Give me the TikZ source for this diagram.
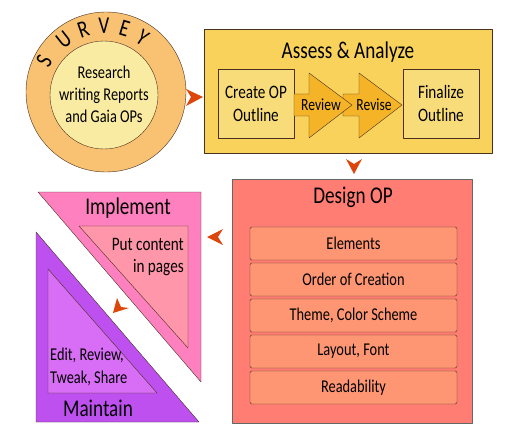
\documentclass[tikz,border=0pt]{standalone}
\usepackage{fontspec}
\setmainfont[FakeStretch=0.8]{Carlito}
\usetikzlibrary{calc}
\definecolor{edge}{HTML}{4A3020}
\definecolor{surveyout}{HTML}{F8C272}
\definecolor{surveyin}{HTML}{FAEBA2}
\definecolor{assessout}{HTML}{F8D25A}
\definecolor{assessin}{HTML}{F9DC7A}
\definecolor{assessarrow}{HTML}{F5B428}
\definecolor{designout}{HTML}{FF7D73}
\definecolor{designin}{HTML}{FF9673}
\definecolor{implout}{HTML}{FF80BE}
\definecolor{implin}{HTML}{FF96AA}
\definecolor{maintout}{HTML}{BE50F0}
\definecolor{maintin}{HTML}{D76EF5}
\definecolor{chev}{HTML}{DC460A}
\tikzset{
  title/.style={font=\fontsize{24}{26}\selectfont, inner sep=0pt},
  body/.style={font=\fontsize{19}{22}\selectfont, inner sep=0pt, align=center},
  item/.style={draw=edge, fill=designin, rounded corners=1.5pt, minimum width=207pt, minimum height=33pt, inner sep=0pt, font=\fontsize{18}{20}\selectfont},
  inbox/.style={draw=edge, fill=assessin, minimum width=76pt, minimum height=69pt, inner sep=0pt, align=center, font=\fontsize{19}{23}\selectfont},
  chevron/.style={fill=chev, draw=none},
  letter/.style={font=\fontsize{24}{24}\selectfont, inner sep=0pt},
}
\begin{document}
\begin{tikzpicture}[x=1pt,y=-1pt, line join=round, thin]
\useasboundingbox (0,0) rectangle (520,444);
\fill[white] (0,0) rectangle (520,444);

% ---------- Survey ----------
\node[circle, draw=edge, fill=surveyout, minimum size=160pt, inner sep=0pt] (survey) at (106,92) {};
\node[circle, draw=edge, fill=surveyin, minimum size=108pt, inner sep=0pt] (surveyinner) at (104,95) {};
\node[body, font=\fontsize{18}{22}\selectfont] (researchtxt) at (104,94) {Research\\writing Reports\\and Gaia OPs};
\foreach \l/\a/\r [count=\i] in {S/152/69,U/128/67,R/109/67,V/91/67,E/73/67,Y/56/67}
  \node[letter, rotate=\a-90] (sv\i) at ({105+\r*cos(\a)},{93-\r*sin(\a)}) {\l};

% chevron survey -> assess
\coordinate (c1) at (203,97);
\fill[chevron] (c1) -- ++(-17,-8) -- ++(5,8) -- ++(-5,9) -- cycle;

% ---------- Assess & Analyze ----------
\node[draw=edge, fill=assessout, minimum width=288pt, minimum height=124pt, inner sep=0pt, anchor=north west] (assess) at (204,29) {};
\node[title] (assesstitle) at (348,52) {Assess \& Analyze};
\node[inbox] (create) at (256,103.5) {Create OP\\Outline};
\node[inbox] (final) at (441,103.5) {Finalize\\Outline};
% arrows
\draw[draw=edge, fill=assessarrow] (343,94) -- (359,94) -- (359,73) -- (402,105) -- (359,138) -- (359,116) -- (343,116) -- cycle;
\draw[draw=edge, fill=assessarrow] (294,94) -- (309,94) -- (309,73) -- (352,105) -- (309,138) -- (309,116) -- (294,116) -- cycle;
\node[font=\fontsize{17}{20}\selectfont, inner sep=0pt] (review) at (321,105) {Review};
\node[font=\fontsize{17}{20}\selectfont, inner sep=0pt] (revise) at (374,105) {Revise};

% chevron assess -> design
\coordinate (c2) at (354,174);
\fill[chevron] (c2) -- ++(-8,-15) -- ++(8,5) -- ++(8,-5) -- cycle;

% ---------- Design OP ----------
\node[draw=gray!80!black, fill=designout, minimum width=240pt, minimum height=244pt, inner sep=0pt, anchor=north west] (design) at (232,179) {};
\node[title] (designtitle) at (353,197) {Design OP};
\node[item] (i1) at (353.5,243.5) {Elements};
\node[item] (i2) at (353.5,279.5) {Order of Creation};
\node[item] (i3) at (353.5,315.5) {Theme, Color Scheme};
\node[item] (i4) at (353.5,351.5) {Layout, Font};
\node[item] (i5) at (353.5,387.5) {Readability};

% chevron design -> implement
\coordinate (c3) at (207,237);
\fill[chevron] (c3) -- ++(16,-8) -- ++(-5,8) -- ++(5,8) -- cycle;

% ---------- Implement ----------
\draw[draw=edge, fill=implout] (38,192) -- (201,192) -- (201,382) -- cycle;
\draw[draw=edge, fill=implin] (79,226) -- (188,226) -- (188,348) -- cycle;
\node[title] (impltitle) at (128,208) {Implement};
\node[body, align=right, anchor=east] (impltxt) at (184,257) {Put content\\in pages};

% chevron implement -> maintain
\coordinate (c4) at (113,313);
\fill[chevron] (c4) -- ++(4,-15) -- ++(4,9) -- ++(8,1) -- cycle;

% ---------- Maintain ----------
\draw[draw=edge, fill=maintout] (36,232) -- (36,422) -- (199,422) -- cycle;
\draw[draw=edge, fill=maintin] (48,269) -- (48,393) -- (157,393) -- cycle;
\node[title] (mainttitle) at (98,408) {Maintain};
\node[body, font=\fontsize{18}{23}\selectfont, align=left, anchor=west] (mainttxt) at (50,367) {Edit, Review,\\Tweak, Share};
\end{tikzpicture}
\end{document}
